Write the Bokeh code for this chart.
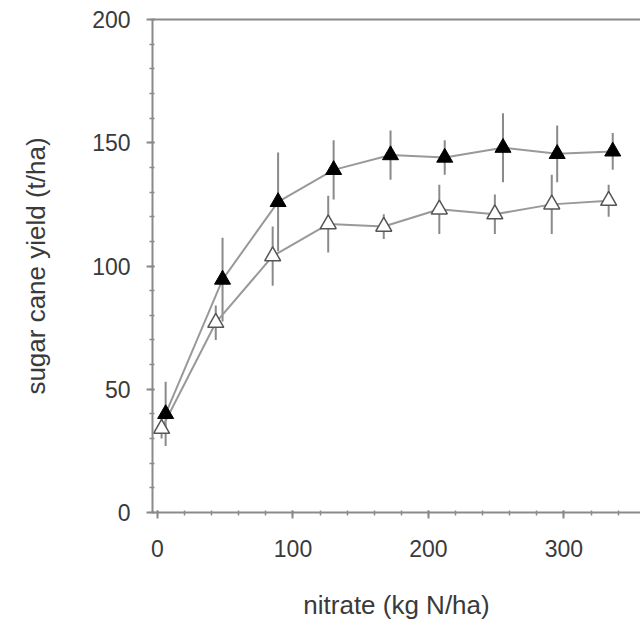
from bokeh.plotting import figure
from bokeh.models import LinearAxis, Range1d, ColumnDataSource, FixedTicker
from bokeh.embed import file_html
from bokeh.resources import INLINE

# Data
x_black = [6, 48, 89, 130, 172, 212, 255, 295, 336]
y_black = [40, 94.5, 126, 139, 145, 144, 148, 145.5, 146.5]
e_black = [13, 17, 20, 12, 10, 7, 14, 11.5, 7.5]

x_white = [3, 43, 85, 126, 167, 208, 249, 291, 333]
y_white = [34, 77, 104, 117, 116, 123, 121, 125, 126.5]
e_white = [4, 7, 12, 11.5, 5, 10, 8, 12, 6.5]

x_ticks = [0, 100, 200, 300]
y_ticks = [0, 50, 100, 150, 200]

FONT = "Liberation Sans"
GREY = "#8a8a8a"
TEXT = "#3a3a3a"

p = figure(width=640, height=631, output_backend="svg", toolbar_location=None,
           x_range=Range1d(-3.7, 356.5), y_range=Range1d(0, 200),
           min_border_left=152, min_border_top=19, min_border_bottom=119, min_border_right=0)
p.outline_line_color = None
p.grid.visible = False
p.background_fill_color = "white"
p.border_fill_color = "white"

def err_src(x, y, e):
    return ColumnDataSource(dict(x=x, lo=[a - b for a, b in zip(y, e)], hi=[a + b for a, b in zip(y, e)]))

bsrc = err_src(x_black, y_black, e_black)
wsrc = err_src(x_white, y_white, e_white)

p.segment(x0="x", y0="lo", x1="x", y1="hi", source=wsrc, line_color=GREY, line_width=2)
p.segment(x0="x", y0="lo", x1="x", y1="hi", source=bsrc, line_color=GREY, line_width=2)

p.line(x_white, y_white, line_color="#999999", line_width=2)
p.line(x_black, y_black, line_color="#999999", line_width=2)

p.scatter(x_white, y_white, marker="triangle", size=16, fill_color="white", line_color="#555555", line_width=1.5)
p.scatter(x_black, y_black, marker="triangle", size=16, fill_color="black", line_color="black", line_width=1)

for ax in (p.xaxis[0], p.yaxis[0]):
    ax.axis_line_color = GREY
    ax.axis_line_width = 2
    ax.major_tick_line_color = GREY
    ax.minor_tick_line_color = GREY
    ax.major_tick_line_width = 2
    ax.minor_tick_line_width = 1.5
    ax.major_tick_in = 2
    ax.major_tick_out = 6
    ax.minor_tick_in = 2
    ax.minor_tick_out = 3
    ax.major_label_text_font = FONT
    ax.major_label_text_font_size = "23px"
    ax.major_label_text_color = TEXT
    ax.axis_label_text_font = FONT
    ax.axis_label_text_font_size = "26px"
    ax.axis_label_text_font_style = "normal"
    ax.axis_label_text_color = TEXT

p.xaxis[0].ticker = FixedTicker(ticks=x_ticks, minor_ticks=list(range(0, 360, 20)))
p.yaxis[0].ticker = FixedTicker(ticks=y_ticks, minor_ticks=list(range(0, 201, 10)))
p.xaxis[0].axis_label = "nitrate (kg N/ha)"
p.yaxis[0].axis_label = "sugar cane yield (t/ha)"
p.xaxis[0].major_label_standoff = 21
p.yaxis[0].major_label_standoff = 16
p.xaxis[0].axis_label_standoff = 30
p.yaxis[0].axis_label_standoff = 38

top = LinearAxis(ticker=FixedTicker(ticks=[]), major_label_text_font_size="0px",
                 axis_line_color=GREY, axis_line_width=2,
                 major_tick_line_color=None, minor_tick_line_color=None)
p.add_layout(top, "above")

open("out.html", "w").write(file_html(p, INLINE))
